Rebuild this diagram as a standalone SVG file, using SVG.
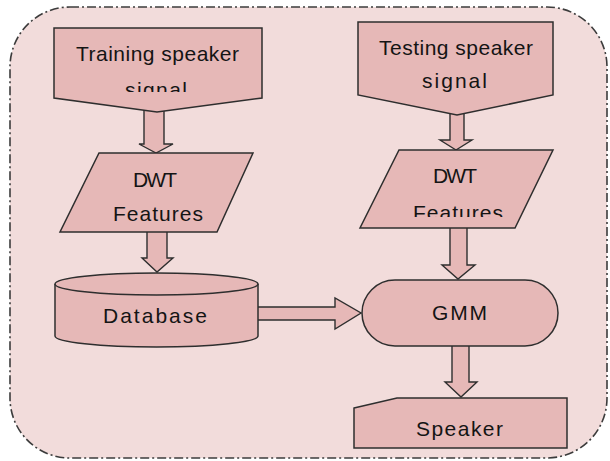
<svg xmlns="http://www.w3.org/2000/svg" width="610" height="461" viewBox="0 0 610 461">
  <style>
    .frame { fill: #f2dcdb; stroke: #3c3c3c; stroke-width: 1.6; stroke-dasharray: 9 3 2 3; }
    .shape { fill: #e6b8b7; stroke: #2e2e2e; stroke-width: 1.5; stroke-linejoin: miter; }
    .arrow { fill: #e6b8b7; stroke: #2e2e2e; stroke-width: 1.4; stroke-linejoin: miter; }
    .label { font-family: "Liberation Sans", Arial, sans-serif; font-size: 21px; fill: #141414; }
  </style>
  <defs>
    <clipPath id="clipTrainSignal"><rect x="54" y="28" width="208" height="64"/></clipPath>
    <clipPath id="clipTestFeatures"><rect x="360" y="150" width="195" height="67"/></clipPath>
  </defs>

  <!-- dash-dot rounded frame -->
  <rect class="frame" x="10" y="7" width="597" height="451" rx="60" ry="60"/>

  <!-- block arrows -->
  <g id="connectors">
    <polygon class="arrow" points="144,106 164,106 164,144 173,144 156,153 139,144 144,144"/>
    <polygon class="arrow" points="147,230 167,230 167,258 173,258 157,272 142,258 147,258"/>
    <polygon class="arrow" points="450,108 464,108 464,140 472,140 456,150 440,140 450,140"/>
    <polygon class="arrow" points="450,226 467,226 467,265 475,265 458,279 442,265 450,265"/>
    <polygon class="arrow" points="256,307 335,307 335,298 361,313 335,329 335,320 256,320"/>
    <polygon class="arrow" points="452,344 469,344 469,382 477,382 461,397 445,382 452,382"/>
  </g>

  <g id="training-signal">
    <polygon class="shape" points="54,28 262,28 262,98 157,112 54,98"/>
    <text class="label" x="76" y="61" textLength="163" lengthAdjust="spacing">Training speaker</text>
    <text class="label" x="125" y="97" textLength="62" lengthAdjust="spacing" clip-path="url(#clipTrainSignal)">signal</text>
  </g>

  <g id="testing-signal">
    <polygon class="shape" points="358,22 553,22 553,95 457,115 358,95"/>
    <text class="label" x="379" y="55" textLength="154" lengthAdjust="spacing">Testing speaker</text>
    <text class="label" x="422" y="88" textLength="65" lengthAdjust="spacing">signal</text>
  </g>

  <g id="dwt-train">
    <polygon class="shape" points="99,153 253,153 217,232 60,232"/>
    <text class="label" x="133" y="187" textLength="44" lengthAdjust="spacing">DWT</text>
    <text class="label" x="113" y="221" textLength="90" lengthAdjust="spacing">Features</text>
  </g>

  <g id="dwt-test">
    <polygon class="shape" points="399,150 553,150 515,228 360,228"/>
    <text class="label" x="433" y="183" textLength="44" lengthAdjust="spacing">DWT</text>
    <text class="label" x="413" y="220" textLength="90" lengthAdjust="spacing" clip-path="url(#clipTestFeatures)">Features</text>
  </g>

  <g id="database">
    <path class="shape" d="M55,284 A101.5,11 0 0 1 258,284 V336 A101.5,11 0 0 1 55,336 Z"/>
    <path class="shape" d="M55,284 A101.5,11 0 0 0 258,284" fill="none"/>
    <text class="label" x="103" y="323" textLength="104" lengthAdjust="spacing">Database</text>
  </g>

  <g id="gmm">
    <rect class="shape" x="362" y="280" width="196" height="66" rx="33" ry="33"/>
    <text class="label" x="432" y="320" textLength="55" lengthAdjust="spacing">GMM</text>
  </g>

  <g id="speaker">
    <polygon class="shape" points="354,408 397,398 567,398 567,448 354,448"/>
    <text class="label" x="416" y="436" textLength="87" lengthAdjust="spacing">Speaker</text>
  </g>
</svg>
